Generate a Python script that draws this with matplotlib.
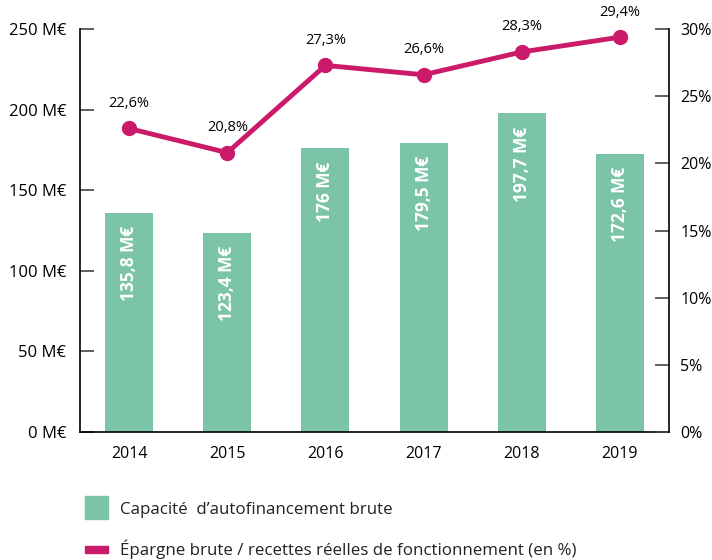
import matplotlib.pyplot as plt
from matplotlib.patches import Rectangle

plt.rcParams['font.family'] = ['Open Sans', 'DejaVu Sans']

years = ['2014', '2015', '2016', '2017', '2018', '2019']
caf = [135.8, 123.4, 176.0, 179.5, 197.7, 172.6]
caf_labels = ['135,8 M€', '123,4 M€', '176 M€', '179,5 M€', '197,7 M€', '172,6 M€']
ratio = [22.6, 20.8, 27.3, 26.6, 28.3, 29.4]
ratio_labels = ['22,6%', '20,8%', '27,3%', '26,6%', '28,3%', '29,4%']
left_ticks = [0, 50, 100, 150, 200, 250]
left_labels = ['0 M€', '50 M€', '100 M€', '150 M€', '200 M€', '250 M€']
right_ticks = [0, 5, 10, 15, 20, 25, 30]
right_labels = ['0%', '5%', '10%', '15%', '20%', '25%', '30%']

green = '#7cc4a8'
pink = '#cc1a6a'

fig = plt.figure(figsize=(7.12, 5.6), dpi=100)
ax = fig.add_axes([0.1124, 0.2286, 0.8272, 0.7194])
x = list(range(len(years)))
ax.bar(x, caf, width=0.49, color=green, zorder=2)
for xi, v, lab in zip(x, caf, caf_labels):
    ax.text(xi, v - 8, lab, rotation=90, ha='center', va='top', color='white',
            fontsize=12.5, fontweight='bold', zorder=3)
ax.set_xlim(-0.5, 5.5)
ax.set_ylim(0, 250)
ax.set_yticks(left_ticks)
ax.set_yticklabels(left_labels, fontsize=12)
ax.set_xticks(x)
ax.set_xticklabels(years, fontsize=11.5)
ax.tick_params(axis='x', length=0, pad=10)
ax.tick_params(axis='y', direction='in', length=10, width=1.2, color='#444444', pad=10)
ax.spines['top'].set_visible(False)
ax.spines['right'].set_visible(False)
ax.spines['left'].set_linewidth(1.2)
ax.spines['bottom'].set_linewidth(1.2)

ax2 = ax.twinx()
ax2.plot(x, ratio, color=pink, linewidth=3.5, marker='o', markersize=10, zorder=4)
for xi, v, lab in zip(x, ratio, ratio_labels):
    ax2.text(xi, v + 1.3, lab, ha='center', va='bottom', fontsize=10.5)
ax2.set_ylim(0, 30)
ax2.set_yticks(right_ticks)
ax2.set_yticklabels(right_labels, fontsize=11.5)
ax2.tick_params(axis='y', direction='in', length=10, width=1.2, color='#444444', pad=8)
for s in ['top', 'left', 'bottom']:
    ax2.spines[s].set_visible(False)
ax2.spines['right'].set_linewidth(1.2)

# legend
fig.patches.append(Rectangle((85 / 712, 1 - 519 / 560), 23 / 712, 23 / 560,
                             transform=fig.transFigure, color=green))
fig.patches.append(Rectangle((85 / 712, 1 - 553 / 560), 23 / 712, 7 / 560,
                             transform=fig.transFigure, color=pink))
fig.text(120 / 712, 1 - 510 / 560, 'Capacité  d’autofinancement brute', fontsize=12.2,
         va='center', color='#222222')
fig.text(120 / 712, 1 - 549 / 560, 'Épargne brute / recettes réelles de fonctionnement (en %)',
         fontsize=12.2, va='center', color='#222222')

plt.savefig('out.png', dpi=100)
